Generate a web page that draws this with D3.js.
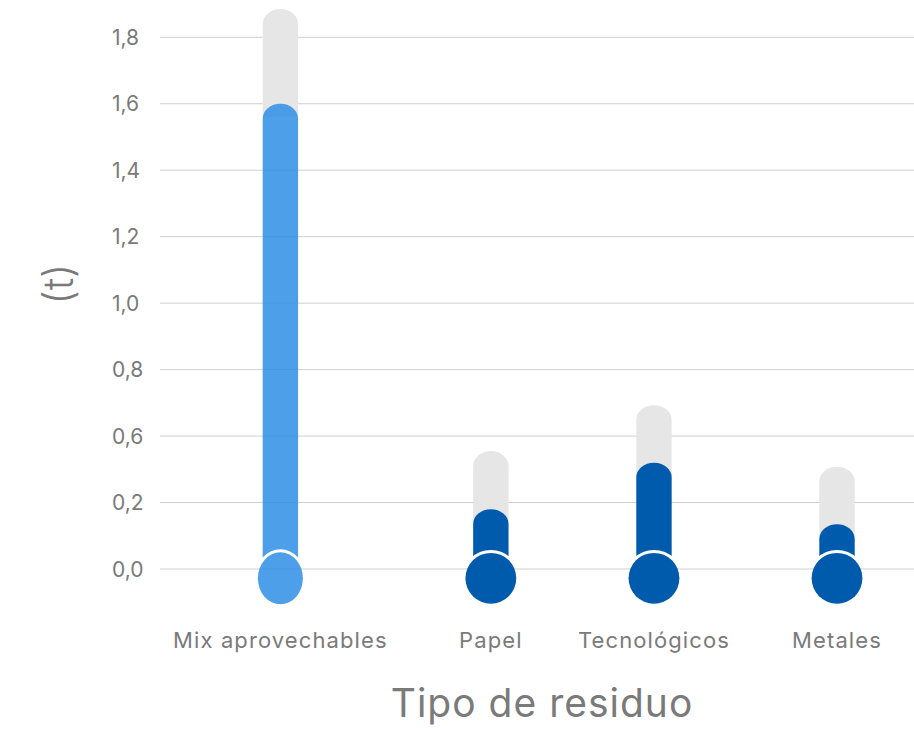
<!DOCTYPE html>
<html>
<head>
<meta charset="utf-8">
<script src="https://cdn.jsdelivr.net/npm/d3@7"></script>
<style>
  html, body { margin: 0; padding: 0; background: #fff; }
  svg { display: block; font-family: Inter, "Open Sans", sans-serif; }
</style>
</head>
<body>
<svg id="chart" width="914" height="730"></svg>
<script>
// Residue types and their measured weight (t) against the reference level
const categories = ["Mix aprovechables", "Papel", "Tecnológicos", "Metales"];
const values     = [1.40, 0.18, 0.32, 0.135];
const maxValues  = [1.685, 0.355, 0.493, 0.308];

// Y axis ticks and the labels printed next to them
const tickValues = [0, 0.2, 0.4, 0.6, 0.8, 1.0, 1.2, 1.4, 1.6];
const tickLabels = ["0,0", "0,2", "0,6", "0,8", "1,0", "1,2", "1,4", "1,6", "1,8"];

const highlighted = "Mix aprovechables";
const colorHighlight = "#2e8ee5";
const colorDefault = "#005bad";
const trackColor = "#e6e6e6";
const textColor = "#7a7a7a";

const svg = d3.select("#chart");
const defs = svg.append("defs");

const y = d3.scaleLinear().domain([0, 1.6]).range([569, 37.3]);

// Gridlines
svg.append("g")
  .selectAll("line")
  .data(tickValues)
  .join("line")
  .attr("x1", 160).attr("x2", 914)
  .attr("y1", d => y(d)).attr("y2", d => y(d))
  .attr("stroke", "#cfcfcf").attr("stroke-width", 1);

// Tick labels
svg.append("g")
  .selectAll("text")
  .data(tickValues)
  .join("text")
  .attr("x", 112)
  .attr("y", d => y(d))
  .attr("dy", "0.36em")
  .attr("fill", textColor)
  .attr("font-size", 21)
  .text((d, i) => tickLabels[i]);

// Category labels: each column gets a width proportional to its label
const labels = svg.append("g").selectAll("text")
  .data(categories)
  .join("text")
  .attr("text-anchor", "middle")
  .attr("y", 648)
  .attr("fill", textColor)
  .attr("font-size", 22)
  .attr("letter-spacing", 1.1)
  .text(d => d);

const widths = [];
labels.each(function () { widths.push(this.getComputedTextLength()); });
const cum = d3.cumsum([0, ...widths]);
const colX = d3.scaleLinear().domain([0, cum[cum.length - 1]]).range([118, 905]);
const xCenter = categories.map((c, i) => colX(cum[i] + widths[i] / 2));

labels.attr("x", (d, i) => xCenter[i]);

const barW = 35.4;
const rx = barW / 2;
const ry = 15;
const bulbR = 25.4;
const bulbCy = y(0) + 9.3;
const gap = 3;

// Bar with a rounded (elliptical) top from yTop down to yBottom
function roundedTop(cx, yTop, yBottom) {
  const l = cx - rx, r = cx + rx;
  return `M${l},${yBottom} L${l},${yTop + ry} A${rx},${ry} 0 0 1 ${r},${yTop + ry} L${r},${yBottom} Z`;
}

const items = categories.map((c, i) => ({
  id: i, name: c, value: values[i], max: maxValues[i], x: xCenter[i],
  color: c === highlighted ? colorHighlight : colorDefault,
  alpha: c === highlighted ? 0.85 : 1,
  bulbRx: c === highlighted ? 22.5 : bulbR,
  bulbRy: c === highlighted ? 26 : bulbR
}));

// Masks cutting the column where it meets the bulb, leaving a thin white gap
const masks = defs.selectAll("mask")
  .data(items)
  .join("mask")
  .attr("id", d => `cut-${d.id}`)
  .attr("maskUnits", "userSpaceOnUse")
  .attr("x", 0).attr("y", 0).attr("width", 914).attr("height", 730);
masks.append("rect")
  .attr("width", 914).attr("height", 730).attr("fill", "#fff");
masks.append("ellipse")
  .attr("cx", d => d.x).attr("cy", bulbCy)
  .attr("rx", d => d.bulbRx + gap).attr("ry", d => d.bulbRy + gap)
  .attr("fill", "#000");

const g = svg.append("g");

// Grey track up to the reference level
g.selectAll("path.track")
  .data(items)
  .join("path")
  .attr("class", "track")
  .attr("d", d => roundedTop(d.x, y(d.max), y(d.value) + ry * 0.85))
  .attr("fill", trackColor);

// Value column
g.selectAll("path.bar")
  .data(items)
  .join("path")
  .attr("class", "bar")
  .attr("d", d => roundedTop(d.x, y(d.value), bulbCy))
  .attr("mask", d => `url(#cut-${d.id})`)
  .attr("fill", d => d.color)
  .attr("fill-opacity", d => d.alpha);

// Bulb
g.selectAll("ellipse.bulb")
  .data(items)
  .join("ellipse")
  .attr("class", "bulb")
  .attr("cx", d => d.x).attr("cy", bulbCy)
  .attr("rx", d => d.bulbRx).attr("ry", d => d.bulbRy)
  .attr("fill", d => d.color)
  .attr("fill-opacity", d => d.alpha);

// Axis titles
svg.append("text")
  .attr("transform", "translate(59,284) rotate(-90)")
  .attr("text-anchor", "middle")
  .attr("dy", "0.35em")
  .attr("fill", textColor)
  .attr("font-size", 41)
  .attr("font-weight", 300)
  .text("(t)");

svg.append("text")
  .attr("x", 542)
  .attr("y", 716.5)
  .attr("text-anchor", "middle")
  .attr("fill", textColor)
  .attr("font-size", 39)
  .attr("letter-spacing", 1)
  .text("Tipo de residuo");
</script>
</body>
</html>
